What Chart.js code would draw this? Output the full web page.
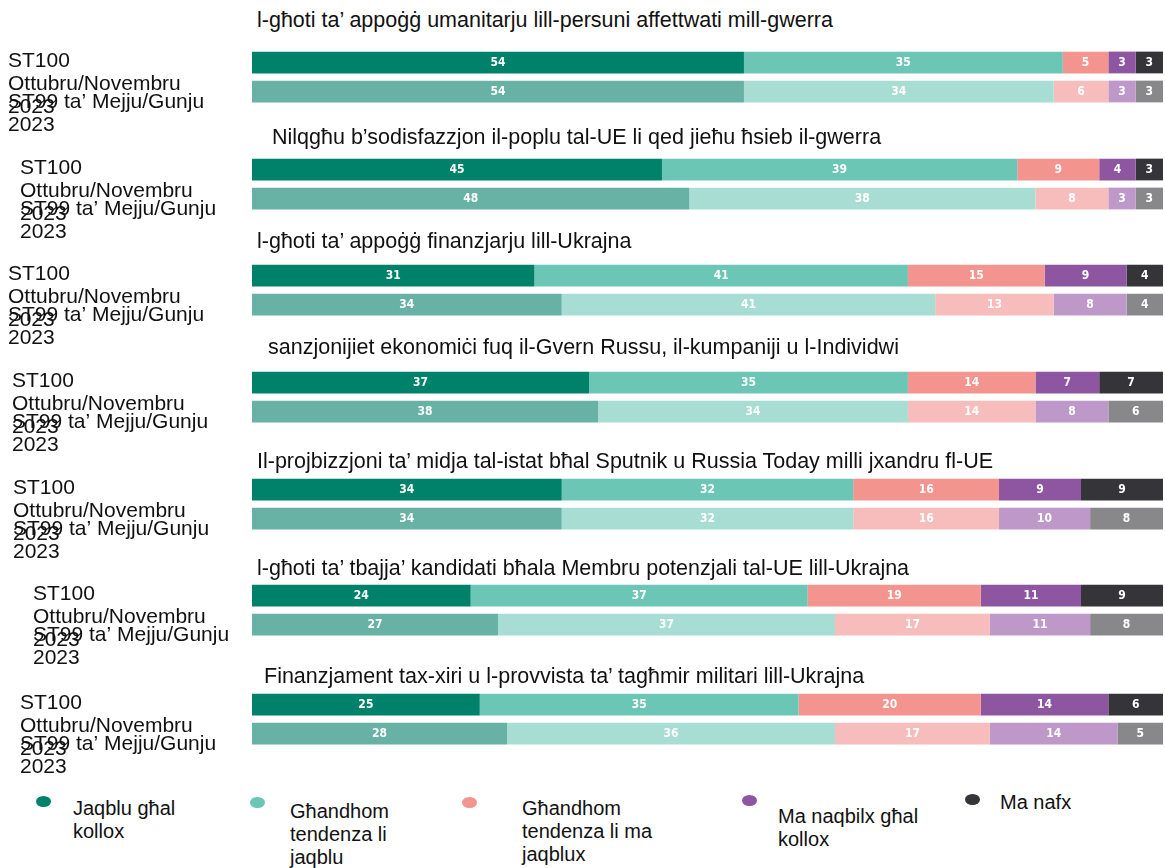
<!DOCTYPE html>
<html>
<head>
<meta charset="utf-8">
<script src="https://cdn.jsdelivr.net/npm/chart.js@4.4.1/dist/chart.umd.min.js"></script>
<style>
  html, body { margin: 0; padding: 0; background: #ffffff; }
  #wrap { position: relative; width: 1165px; height: 868px; overflow: hidden; background: #fff; }
  canvas.grp { position: absolute; left: 0; }
  .title { position: absolute; font-family: "Liberation Sans", Arial, sans-serif; font-size: 21.5px; line-height: 24px; color: #111; white-space: nowrap; z-index: 5; }
  .lg { position: absolute; font-family: "Liberation Sans", Arial, sans-serif; font-size: 20px; line-height: 23px; color: #111; white-space: nowrap; }
  .mk { position: absolute; width: 15px; height: 11px; border-radius: 50%; }
</style>
</head>
<body>
<div id="wrap"></div>
<script>
// ---------------- DATA ----------------
const groupTitles = [
  "l-għoti ta’ appoġġ umanitarju lill-persuni affettwati mill-gwerra",
  "Nilqgħu b’sodisfazzjon il-poplu tal-UE li qed jieħu ħsieb il-gwerra",
  "l-għoti ta’ appoġġ finanzjarju lill-Ukrajna",
  "sanzjonijiet ekonomiċi fuq il-Gvern Russu, il-kumpaniji u l-Individwi",
  "Il-projbizzjoni ta’ midja tal-istat bħal Sputnik u Russia Today milli jxandru fl-UE",
  "l-għoti ta’ tbajja’ kandidati bħala Membru potenzjali tal-UE lill-Ukrajna",
  "Finanzjament tax-xiri u l-provvista ta’ tagħmir militari lill-Ukrajna"
];
const waveLabels = [
  ["ST100", "Ottubru/Novembru", "2023"],
  ["ST99 ta’ Mejju/Gunju", "2023"]
];
const categories = [
  "Jaqblu għal kollox",
  "Għandhom tendenza li jaqblu",
  "Għandhom tendenza li ma jaqblux",
  "Ma naqbilx għal kollox",
  "Ma nafx"
];
const legendLines = [
  ["Jaqblu għal", "kollox"],
  ["Għandhom", "tendenza li", "jaqblu"],
  ["Għandhom", "tendenza li ma", "jaqblux"],
  ["Ma naqbilx għal", "kollox"],
  ["Ma nafx"]
];
// values per category, one entry per group (ST100 / ST99)
const totallyAgreeST100    = [54, 45, 31, 37, 34, 24, 25];
const totallyAgreeST99     = [54, 48, 34, 38, 34, 27, 28];
const tendAgreeST100       = [35, 39, 41, 35, 32, 37, 35];
const tendAgreeST99        = [34, 38, 41, 34, 32, 37, 36];
const tendDisagreeST100    = [5, 9, 15, 14, 16, 19, 20];
const tendDisagreeST99     = [6, 8, 13, 14, 16, 17, 17];
const totallyDisagreeST100 = [3, 4, 9, 7, 9, 11, 14];
const totallyDisagreeST99  = [3, 3, 8, 8, 10, 11, 14];
const dontKnowST100        = [3, 3, 4, 7, 9, 9, 6];
const dontKnowST99         = [3, 3, 4, 6, 8, 8, 5];

// ---------------- STYLE ----------------
const colorsST100 = ["#00816a", "#6cc6b6", "#f3948f", "#8e56a0", "#353438"];
const colorsST99  = ["#67b2a5", "#a8ddd4", "#f7bcbc", "#be98c8", "#88888a"];
const FONT = "'Liberation Sans', Arial, sans-serif";

const bar1Centers = [62, 169, 275, 382, 489, 595, 704];
const labelX = [8, 20, 8, 12, 13, 33, 20];
const titlePos = [[257, 20], [272, 137], [257, 241], [268, 347], [257, 461], [257, 568], [264, 676]];
const PITCH = 29;

const seriesST100 = [totallyAgreeST100, tendAgreeST100, tendDisagreeST100, totallyDisagreeST100, dontKnowST100];
const seriesST99  = [totallyAgreeST99, tendAgreeST99, tendDisagreeST99, totallyDisagreeST99, dontKnowST99];

const wrap = document.getElementById('wrap');

const valueLabels = {
  id: 'valueLabels',
  afterDatasetsDraw(chart) {
    const ctx = chart.ctx;
    ctx.save();
    ctx.fillStyle = '#ffffff';
    ctx.font = "bold 12px 'DejaVu Sans Condensed', 'Liberation Sans Narrow', sans-serif";
    ctx.textAlign = 'center';
    ctx.textBaseline = 'middle';
    chart.data.datasets.forEach((ds, di) => {
      const meta = chart.getDatasetMeta(di);
      meta.data.forEach((el, i) => {
        const p = el.getProps(['x', 'base', 'y'], true);
        ctx.fillText(String(ds.data[i]), (p.x + p.base) / 2, p.y + 0.5);
      });
    });
    ctx.restore();
  }
};

// tick labels: pad with empty lines so that the first text line sits on the bar
const tickLabels = [
  ["", ""].concat(waveLabels[0]),
  ["", ""].concat(waveLabels[1])
];

for (let g = 0; g < groupTitles.length; g++) {
  const padTop = 2, padBottom = 64;
  const areaTop = bar1Centers[g] - PITCH / 2;
  const cv = document.createElement('canvas');
  cv.className = 'grp';
  cv.width = 1165;
  cv.height = padTop + 2 * PITCH + padBottom;
  cv.style.top = (areaTop - padTop) + 'px';
  cv.style.zIndex = String(g + 1);
  wrap.appendChild(cv);

  const datasets = categories.map((c, k) => ({
    label: c,
    data: [seriesST100[k][g], seriesST99[k][g]],
    backgroundColor: [colorsST100[k], colorsST99[k]],
    borderWidth: 0,
    barPercentage: 0.75,
    categoryPercentage: 1.0
  }));

  const lx = labelX[g];
  new Chart(cv, {
    type: 'bar',
    data: { labels: tickLabels, datasets },
    options: {
      indexAxis: 'y',
      responsive: false,
      animation: false,
      devicePixelRatio: 1,
      layout: { padding: { left: lx, right: 2, top: padTop, bottom: padBottom } },
      plugins: { legend: { display: false }, tooltip: { enabled: false }, title: { display: false } },
      scales: {
        x: { display: false, stacked: true, min: 0, max: 100 },
        y: {
          stacked: true,
          grid: { display: false },
          border: { display: false },
          afterFit: (s) => { s.width = 252 - lx; s.paddingTop = 0; s.paddingBottom = 0; },
          ticks: {
            autoSkip: false,
            crossAlign: 'far',
            labelOffset: -1,
            color: '#111111',
            font: { family: FONT, size: 21, lineHeight: 1.1 }
          }
        }
      }
    },
    plugins: [valueLabels]
  });

  const t = document.createElement('div');
  t.className = 'title';
  t.textContent = groupTitles[g];
  t.style.left = titlePos[g][0] + 'px';
  t.style.top = (titlePos[g][1] - 12) + 'px';
  t.style.zIndex = '20';
  wrap.appendChild(t);
}

// legend
const markerPos = [[43, 801], [257, 802], [469, 802], [749, 800], [972, 799]];
const textPos = [[73, 808], [290, 811], [522, 808], [778, 816], [1000, 802]];
categories.forEach((c, k) => {
  const m = document.createElement('div');
  m.className = 'mk';
  m.style.background = colorsST100[k];
  m.style.left = (markerPos[k][0] - 7.5) + 'px';
  m.style.top = (markerPos[k][1] - 5.5) + 'px';
  m.title = c;
  wrap.appendChild(m);
  const d = document.createElement('div');
  d.className = 'lg';
  d.innerHTML = legendLines[k].join('<br>');
  d.style.left = textPos[k][0] + 'px';
  d.style.top = (textPos[k][1] - 11.5) + 'px';
  wrap.appendChild(d);
});
</script>
</body>
</html>
